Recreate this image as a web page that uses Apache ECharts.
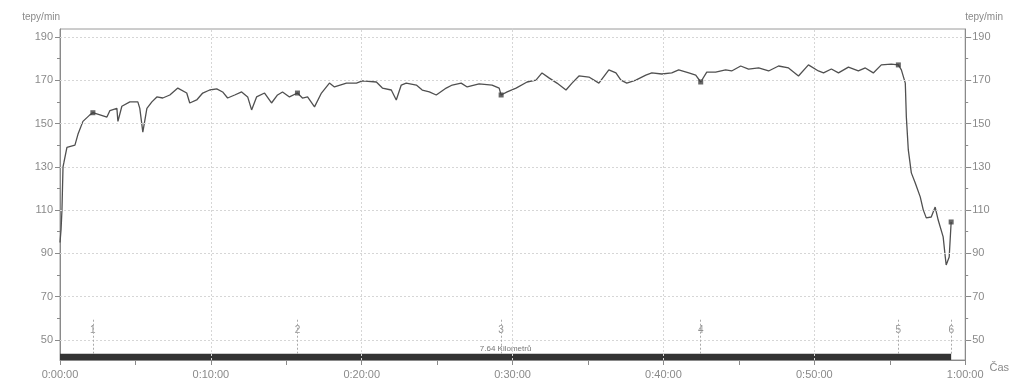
<!DOCTYPE html>
<html>
<head>
<meta charset="utf-8">
<script src="https://cdn.jsdelivr.net/npm/echarts@6/dist/echarts.min.js"></script>
<style>
  html, body { margin: 0; padding: 0; background: #fff; }
  #chart { width: 1012px; height: 383px; }
</style>
</head>
<body>
<div id="chart"></div>
<script>
// Heart-rate track: elapsed time (minutes) and beats per minute
const timeMin = [
  0, 0.07, 0.13, 0.2, 0.26, 0.46, 0.99, 1.19, 1.52, 1.98,
  2.18, 2.65, 3.11, 3.31, 3.77, 3.84, 4.1, 4.63, 5.16, 5.29,
  5.49, 5.76, 6.09, 6.42, 6.81, 7.28, 7.81, 8.4, 8.6, 9.06,
  9.46, 9.92, 10.39, 10.78, 11.11, 11.58, 12.04, 12.44, 12.7, 13.03,
  13.56, 14.02, 14.42, 14.75, 15.21, 15.74, 16.07, 16.41, 16.87, 17.33,
  17.86, 18.19, 18.99, 19.65, 20.04, 20.97, 21.37, 21.96, 22.29, 22.62,
  22.95, 23.62, 24.01, 24.48, 24.94, 25.6, 26.0, 26.59, 26.99, 27.78,
  28.64, 29.11, 29.24, 29.64, 30.23, 30.96, 31.55, 31.95, 32.41, 32.94,
  33.54, 33.94, 34.4, 35.06, 35.72, 36.38, 36.85, 37.18, 37.57, 38.17,
  38.83, 39.23, 39.89, 40.55, 41.01, 41.68, 42.14, 42.47, 42.87, 43.46,
  44.12, 44.52, 45.12, 45.64, 46.31, 46.97, 47.63, 48.29, 48.95, 49.61,
  50.27, 50.61, 51.13, 51.6, 52.26, 52.92, 53.38, 53.91, 54.44, 55.1,
  55.57, 55.77, 56.03, 56.1, 56.23, 56.43, 56.69, 57.02, 57.22, 57.42,
  57.75, 58.01, 58.21, 58.54, 58.68, 58.74, 58.94, 59.07
];
const heartRate = [
  95, 101, 110, 130, 132, 139, 140, 145, 151, 154,
  155, 154, 153, 156, 157, 151, 158, 160, 160, 157,
  146, 157, 160, 162.3, 161.8, 163.2, 166.4, 164.1, 159.5, 160.9,
  164.1, 165.5, 166, 164.6, 161.8, 163.2, 164.6, 162.3, 156.3, 162.3,
  164.1, 159.5, 163.2, 164.6, 162.3, 164.1, 161.8, 162.3, 157.7, 164.1,
  168.7, 166.9, 168.7, 168.7, 169.7, 169.2, 166.4, 165.5, 160.9, 167.8,
  168.7, 167.8, 165.5, 164.6, 163.2, 166.4, 167.8, 168.7, 166.9, 168.3,
  167.8, 166.4, 163.2, 164.6, 166.4, 169.2, 170.1, 173.4, 171.1, 168.7,
  165.5, 168.7, 172, 171.5, 168.7, 174.8, 173.4, 170.1, 168.7, 170.1,
  172.4, 173.4, 172.9, 173.4, 174.8, 173.4, 172.4, 169.2, 173.8, 173.8,
  174.8, 174.3, 176.6, 175.2, 175.7, 174.3, 176.6, 175.7, 172, 177.1,
  174.3, 173.4, 175.2, 173.4, 176.1, 174.3, 175.7, 173.4, 177.1, 177.5,
  177.1, 174.8, 168.7, 153, 137.8, 127.2, 122.5, 116.1, 110.1, 106.4,
  106.8, 111.4, 105.4, 97.6, 88.3, 84.6, 88.3, 104.5
];

// Lap splits (minutes) and their numbers
const lapTimeMin = [2.18, 15.74, 29.24, 42.47, 55.57, 59.07];
const lapLabels = ['1', '2', '3', '4', '5', '6'];

// Axis tick values
const yMajorTicks = [50, 70, 90, 110, 130, 150, 170, 190];
const yMinorTicks = [60, 80, 100, 120, 140, 160, 180];
const xGridMin = [10, 20, 30, 40, 50];

const distanceText = '7.64 Kilometrů';
const yUnit = 'tepy/min';
const xUnit = 'Čas';

const Y_MIN = 40.7, Y_MAX = 193.7;
const LAP_LABEL_Y = 54.6;
const TRACK_BAR_TOP = 43.6;

const gray = '#8a8a8a';
const font = 'Liberation Sans, Arial, sans-serif';

const hrPoints = timeMin.map((t, i) => [t, heartRate[i]]);
const lapMarkers = lapTimeMin.map(t => {
  const i = timeMin.indexOf(t);
  return [t, heartRate[i]];
});
const trackEnd = timeMin[timeMin.length - 1];

function fmtTime(v) {
  const h = Math.floor(v / 60);
  const m = Math.round(v % 60);
  return h + ':' + String(m).padStart(2, '0') + ':00';
}

function yAxisDef(pos, ticks, len, main) {
  return {
    type: 'value', position: pos, min: Y_MIN, max: Y_MAX,
    name: main ? yUnit : '',
    nameLocation: 'end', nameGap: 12,
    nameTextStyle: { color: gray, fontSize: 10, fontFamily: font,
      align: pos === 'left' ? 'right' : 'left', verticalAlign: 'middle' },
    axisLine: { show: main, lineStyle: { color: gray, width: 1 } },
    axisTick: { show: true, customValues: ticks, length: len, lineStyle: { color: gray } },
    axisLabel: { show: main, customValues: ticks, color: gray, fontSize: 11, fontFamily: font, margin: 7 },
    splitLine: { show: false }
  };
}

const chart = echarts.init(document.getElementById('chart'), null, { renderer: 'canvas' });
chart.setOption({
  animation: false,
  backgroundColor: '#fff',
  grid: { left: 60, right: 45, top: 29, bottom: 23, show: true, borderColor: '#9a9a9a', borderWidth: 1, backgroundColor: 'transparent' },
  xAxis: {
    type: 'value', min: 0, max: 60, interval: 5,
    name: xUnit, nameLocation: 'end', nameGap: 18,
    nameTextStyle: { color: gray, fontSize: 11, fontFamily: font, verticalAlign: 'top', padding: [2, 0, 0, 0] },
    axisLine: { lineStyle: { color: gray } },
    axisTick: { length: 5, lineStyle: { color: gray } },
    axisLabel: {
      color: gray, fontSize: 11, fontFamily: font, margin: 9,
      formatter: v => (v % 10 === 0 ? fmtTime(v) : '')
    },
    splitLine: { show: false }
  },
  yAxis: [
    yAxisDef('left', yMajorTicks, 5, true),
    yAxisDef('left', yMinorTicks, 3, false),
    yAxisDef('right', yMajorTicks, 6, true),
    yAxisDef('right', yMinorTicks, 3, false)
  ],
  series: [
    {
      // grid lines and the track bar
      type: 'line', data: [], silent: true,
      markLine: {
        silent: true, symbol: 'none', label: { show: false },
        lineStyle: { color: '#d6d6d6', type: [2, 2], width: 1 },
        data: yMajorTicks.map(v => ({ yAxis: v })).concat(xGridMin.map(v => ({ xAxis: v })))
      },
      markArea: {
        silent: true,
        itemStyle: { color: '#333' },
        label: { show: true, position: 'top', distance: 1, color: '#777', fontSize: 8, fontFamily: font, formatter: distanceText },
        data: [[{ coord: [0, Y_MIN] }, { coord: [trackEnd, TRACK_BAR_TOP] }]]
      }
    },
    {
      // lap numbers with their guide lines
      type: 'scatter', symbolSize: 0, silent: true,
      data: lapTimeMin.map((t, i) => ({ value: [t, LAP_LABEL_Y], name: lapLabels[i] })),
      label: { show: true, position: 'inside', formatter: p => p.name, color: '#777', fontSize: 10, fontFamily: font },
      markLine: {
        silent: true, symbol: 'none', label: { show: false },
        lineStyle: { color: '#aaa', type: [2, 2], width: 1 },
        data: lapTimeMin.map(t => [{ coord: [t, TRACK_BAR_TOP] }, { coord: [t, 59.5] }])
      },
      z: 3
    },
    {
      type: 'line', data: hrPoints, showSymbol: false, symbol: 'none',
      lineStyle: { color: '#505050', width: 1.3 }, z: 4
    },
    {
      type: 'scatter', data: lapMarkers, symbol: 'rect', symbolSize: 5,
      itemStyle: { color: '#404040' }, z: 5
    }
  ]
});
</script>
</body>
</html>
